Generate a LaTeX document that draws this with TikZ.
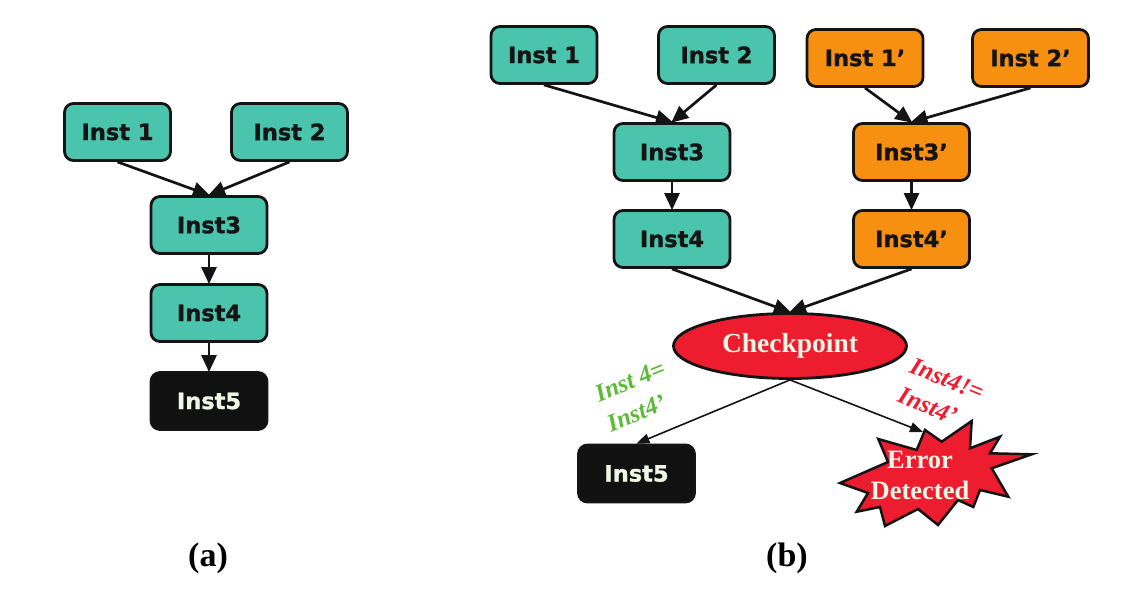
\documentclass[tikz,border=0pt]{standalone}
\usepackage{fontspec}
\setmainfont{Liberation Serif}
\setsansfont{DejaVu Sans}[BoldFeatures={FakeBold=1.3}]
\usetikzlibrary{arrows.meta,shapes.geometric}
\definecolor{tealbox}{RGB}{75,196,174}
\definecolor{orangebox}{RGB}{247,144,17}
\definecolor{redbox}{RGB}{237,28,46}
\definecolor{darkbox}{RGB}{17,17,17}
\definecolor{greentext}{RGB}{93,187,58}
\definecolor{paletext}{RGB}{240,245,230}
\definecolor{edge}{RGB}{20,20,20}
\begin{document}
\begin{tikzpicture}[x=1pt,y=-1pt,
  box/.style={draw=edge, line width=2.8pt, rounded corners=9pt,
    minimum width=116pt, minimum height=57pt, inner sep=0pt,
    font=\sffamily\bfseries\fontsize{22.5}{26}\selectfont, text=black!92},
  tealnode/.style={box, fill=tealbox},
  orangenode/.style={box, fill=orangebox},
  darknode/.style={box, fill=darkbox, text=paletext},
  narrow/.style={minimum width=106pt},
  conn/.style={draw=edge, line width=2.7pt, -{Triangle[length=17pt,width=15pt]}, shorten >=-1pt},
  thinconn/.style={draw=edge, line width=1.6pt, -{Triangle[length=13pt,width=10pt]}},
  sublabel/.style={font=\bfseries\fontsize{34}{38}\selectfont},
  cmp/.style={font=\bfseries\itshape\fontsize{25}{32}\selectfont, align=left, inner sep=0pt}
]
\useasboundingbox (0,0) rectangle (1141,597);

% (a)
\node[tealnode, narrow] (a1) at (117.5,132) {Inst 1};
\node[tealnode] (a2) at (289.5,132) {Inst 2};
\node[tealnode] (a3) at (209,225) {Inst3};
\node[tealnode] (a4) at (209,313) {Inst4};
\node[darknode] (a5) at (209,401) {Inst5};
\draw[conn] (a1.south) -- (a3.north);
\draw[conn] (a2.south) -- (a3.north);
\draw[conn] (a3.south) -- (a4.north);
\draw[conn] (a4.south) -- (a5.north);
\node[sublabel] (capa) at (208,558) {(a)};

% (b)
\node[tealnode, narrow] (b1) at (544,55) {Inst 1};
\node[tealnode] (b2) at (716.5,55) {Inst 2};
\node[orangenode] (b1p) at (865,58) {Inst 1’};
\node[orangenode] (b2p) at (1030.5,58) {Inst 2’};
\node[tealnode] (b3) at (672,152) {Inst3};
\node[orangenode] (b3p) at (911.5,152) {Inst3’};
\node[tealnode] (b4) at (672,239) {Inst4};
\node[orangenode] (b4p) at (911.5,239) {Inst4’};
\node[ellipse, draw=edge, line width=2.8pt, fill=redbox, minimum width=233pt,
      minimum height=65pt, inner sep=0pt, text=paletext,
      font=\bfseries\fontsize{27.5}{30}\selectfont] (cp) at (790,346) {Checkpoint};
\node[darknode] (b5) at (636.5,473.5) {Inst5};

\draw[fill=redbox, draw=edge, line width=2.5pt, line join=miter, miter limit=20]
  (925,430) -- (941.7,441.7) -- (971.7,421) -- (970,448.3) -- (1000,436.7)
  -- (990,453.3) -- (1031.7,454.3) -- (991.7,468.3) -- (1008.3,496.7)
  -- (980,490) -- (973.3,507) -- (958,500) -- (938,525) -- (918,509)
  -- (885,526) -- (880,507) -- (856.7,511.7) -- (868,493) -- (840,483)
  -- (888,462) -- (878.3,439) -- (916.7,450) -- cycle;
\node[align=center, text=paletext, inner sep=0pt,
      font=\bfseries\fontsize{26.5}{31}\selectfont] (err) at (920,475) {Error\\Detected};
\coordinate (errtip) at (923,432);

\draw[conn] (b1.south) -- (b3.north);
\draw[conn] (b2.south) -- (b3.north);
\draw[conn] (b1p.south) -- (b3p.north);
\draw[conn] (b2p.south) -- (b3p.north);
\draw[conn] (b3.south) -- (b4.north);
\draw[conn] (b3p.south) -- (b4p.north);
\draw[conn] (b4.south) -- (cp.north);
\draw[conn] (b4p.south) -- (cp.north);
\draw[thinconn] (cp.south) -- (b5.north);
\draw[thinconn] (cp.south) -- (errtip);

\node[cmp, text=greentext, rotate=22] (eq) at (636,396) {Inst 4=\\Inst4’};
\node[cmp, text=redbox, rotate=-22] (neq) at (941,394) {Inst4!=\\Inst4’};

\node[sublabel] (capb) at (787,558) {(b)};
\end{tikzpicture}
\end{document}
